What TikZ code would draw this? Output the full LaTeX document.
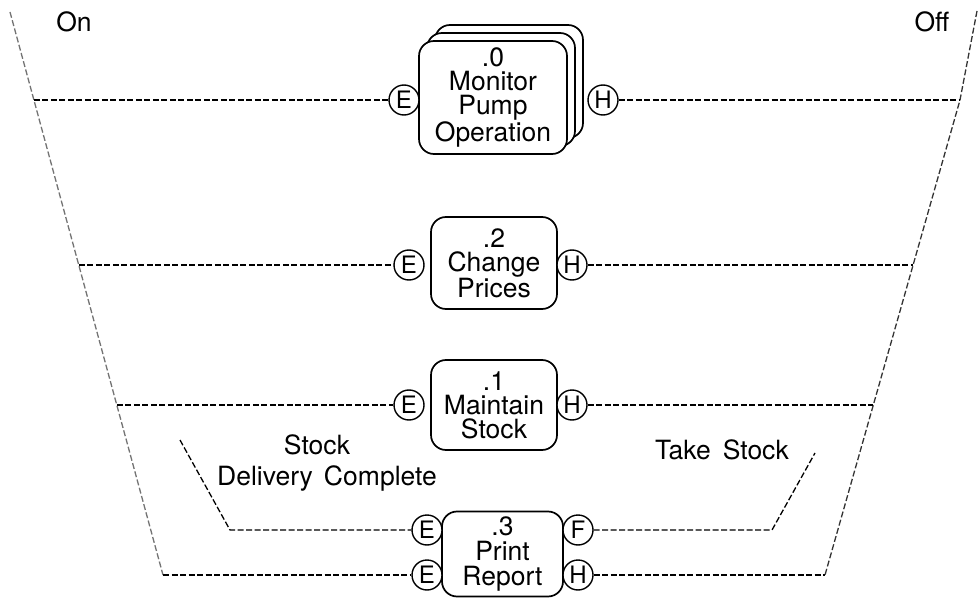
\documentclass[tikz,border=0pt]{standalone}
\usepackage{fontspec}
\setmainfont{TeX Gyre Heros}
\begin{document}
\begin{tikzpicture}[x=1pt,y=-1pt,
  procbox/.style={draw, line width=1.7pt, rounded corners=15pt, fill=white, inner sep=0pt, align=center,
    font=\fontsize{26.5}{24}\selectfont},
  port/.style={circle, draw, line width=1.4pt, minimum size=30pt, inner sep=0pt, fill=white,
    font=\fontsize{24}{24}\selectfont},
  link/.style={line width=1.3pt, dash pattern=on 6pt off 2.5pt},
  rail/.style={line width=1.3pt, dash pattern=on 6pt off 2.5pt},
  lbl/.style={inner sep=0pt, font=\fontsize{26.5}{26}\selectfont}]
\useasboundingbox (0,0) rectangle (978,599);

% rails
\coordinate (Ltop) at (10,12);
\coordinate (Lbot) at (163,575);
\coordinate (Rtop) at (977,11);
\coordinate (R1) at (960,100);
\coordinate (Rbot) at (825,575);
\draw[rail, black!55] (Ltop) -- (Lbot);
\draw[rail, black!80] (Rtop) -- (R1) -- (Rbot);

\coordinate (L1) at (33.9,100);
\coordinate (L2) at (78.8,265);
\coordinate (L3) at (116.8,405);
\coordinate (R2) at (913.1,265);
\coordinate (R3) at (873.4,405);

% titles
\node[lbl] (on) at (74,22) {On};
\node[lbl] (off) at (932,22) {Off};

% .0 Monitor Pump Operation (stacked)
\node[procbox, minimum width=148pt, minimum height=113pt] (mon3) at (509,81.5) {};
\node[procbox, minimum width=148pt, minimum height=113pt] (mon2) at (501,89.5) {};
\node[procbox, minimum width=148pt, minimum height=113pt] (mon) at (493,97.5) {.0\\Monitor\\Pump\\Operation};
\node[port] (E1) at (404,100) {E};
\node[port] (H1) at (603,100) {H};

% .2 Change Prices
\node[procbox, minimum width=126pt, minimum height=92pt] (chg) at (494,263) {.2\\Change\\Prices};
\node[port] (E2) at (409,265) {E};
\node[port] (H2) at (572,265) {H};

% .1 Maintain Stock
\node[procbox, minimum width=126pt, minimum height=90pt] (mnt) at (494,405) {.1\\Maintain\\Stock};
\node[port] (E3) at (409,405) {E};
\node[port] (H3) at (572,405) {H};

% .3 Print Report
\node[procbox, minimum width=121pt, minimum height=85pt, font=\fontsize{26.5}{25}\selectfont] (prt) at (502.5,554) {.3\\Print\\Report};
\node[port] (E4) at (427,530) {E};
\node[port] (F4) at (578,530) {F};
\node[port] (E5) at (427,575) {E};
\node[port] (H5) at (578,575) {H};

% labels
\node[lbl] (stk) at (317,445) {Stock};
\node[lbl] (dlv) at (327,478) {Delivery\hspace{11pt}Complete};
\node[lbl] (tks) at (722,450) {Take\hspace{12pt}Stock};

% connectors
\draw[link] (L1) -- (E1.west);
\draw[link] (H1.east) -- (R1);
\draw[link] (L2) -- (E2.west);
\draw[link] (H2.east) -- (R2);
\draw[link] (L3) -- (E3.west);
\draw[link] (H3.east) -- (R3);

\coordinate (D1) at (180,440);
\coordinate (D2) at (230,530);
\draw[link] (D1) -- (D2) -- (E4.west);
\coordinate (T1) at (772,530);
\coordinate (T2) at (815,453);
\draw[link] (F4.east) -- (T1) -- (T2);

\draw[link] (Lbot) -- (E5.west);
\draw[link] (H5.east) -- (Rbot);
\end{tikzpicture}
\end{document}
